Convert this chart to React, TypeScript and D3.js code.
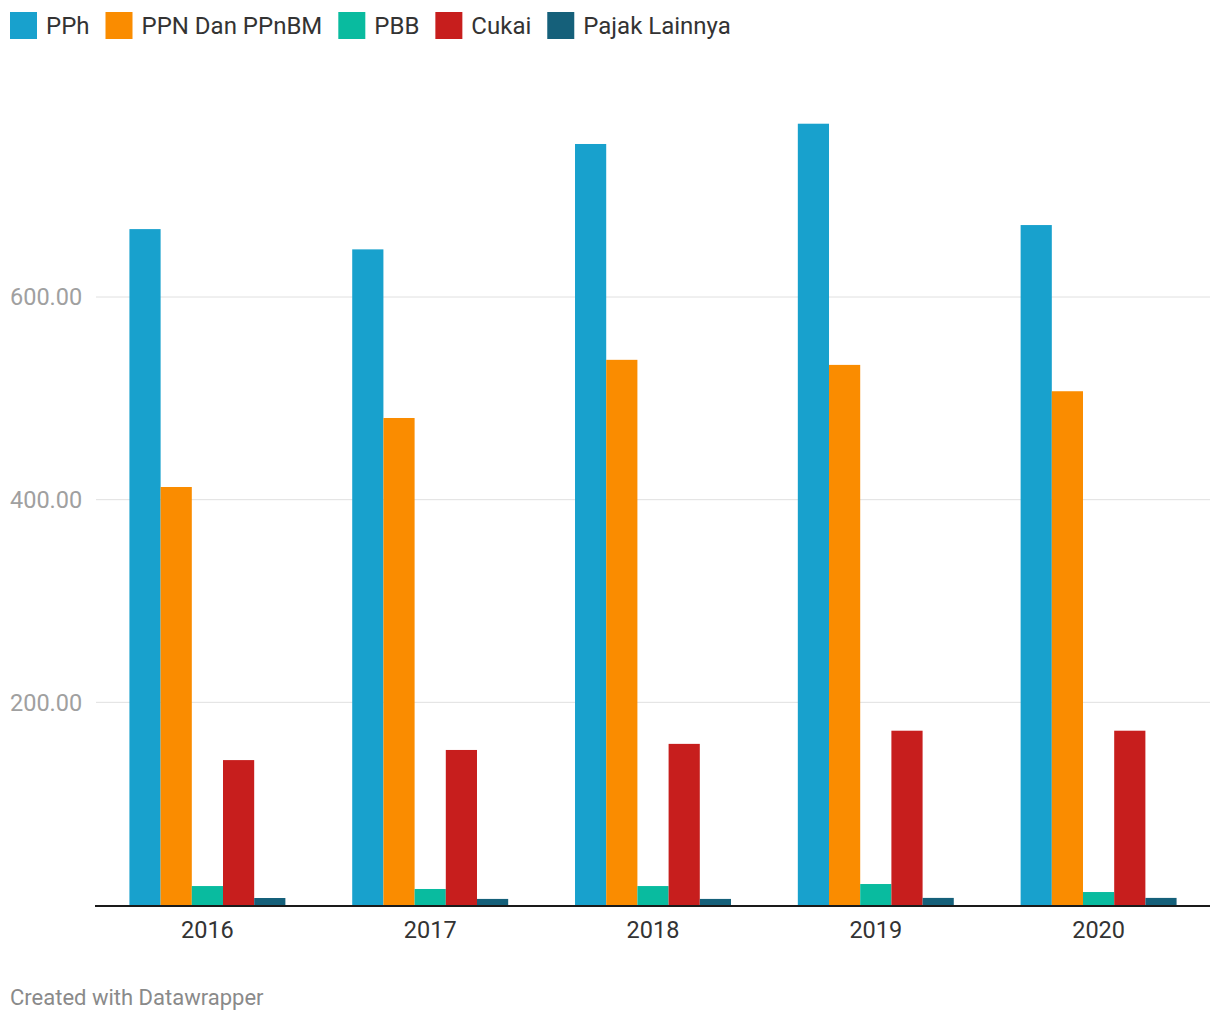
import React, { useEffect, useRef } from 'react'
import * as d3 from 'd3'

const years = ['2016', '2017', '2018', '2019', '2020']
const seriesNames = ['PPh', 'PPN Dan PPnBM', 'PBB', 'Cukai', 'Pajak Lainnya']
const pph = [667, 647, 751, 771, 671]
const ppn = [412.5, 480.6, 538, 533, 507]
const pbb = [18.7, 15.8, 18.7, 20.7, 12.8]
const cukai = [143, 153, 159, 172, 172]
const lainnya = [6.9, 6, 6, 7, 7]
const yTicks = [200, 400, 600]
const colors = ['#18a1cd', '#fa8c00', '#09bb9f', '#c71e1d', '#15607a']

const W = 1220
const H = 1020

export default function App() {
  const svgRef = useRef<SVGSVGElement>(null)

  useEffect(() => {
    if (!svgRef.current) return
    const svg = d3.select(svgRef.current)
    svg.selectAll('*').remove()

    const values = [pph, ppn, pbb, cukai, lainnya]
    const margin = { left: 96, right: 10, bottom: 905 }

    const x0 = d3.scaleBand<string>()
      .domain(years)
      .range([margin.left, W - margin.right])
      .paddingInner(0.3)
      .paddingOuter(0.15)

    const x1 = d3.scaleBand<string>()
      .domain(seriesNames)
      .range([0, x0.bandwidth()])

    const y = d3.scaleLinear()
      .domain([0, 600])
      .range([margin.bottom, 297])

    // grid lines + y labels
    const grid = svg.append('g')
    yTicks.forEach(t => {
      grid.append('line')
        .attr('x1', margin.left)
        .attr('x2', W - margin.right)
        .attr('y1', y(t))
        .attr('y2', y(t))
        .attr('stroke', '#e0e0e0')
        .attr('stroke-width', 1)
      grid.append('text')
        .attr('x', 10)
        .attr('y', y(t))
        .attr('dy', '0.35em')
        .attr('font-size', 23.5)
        .attr('fill', '#a0a0a0')
        .text(d3.format('.2f')(t))
    })

    // bars
    const groups = svg.append('g')
      .selectAll('g')
      .data(years)
      .join('g')
      .attr('transform', d => `translate(${x0(d)},0)`)

    groups.selectAll('rect')
      .data((_, i) => seriesNames.map((s, j) => ({ s, v: values[j][i], c: colors[j] })))
      .join('rect')
      .attr('x', d => x1(d.s)!)
      .attr('width', x1.bandwidth())
      .attr('y', d => y(d.v))
      .attr('height', d => y(0) - y(d.v))
      .attr('fill', d => d.c)

    // x axis
    svg.append('line')
      .attr('x1', 95)
      .attr('x2', W - margin.right)
      .attr('y1', y(0) + 1)
      .attr('y2', y(0) + 1)
      .attr('stroke', '#1a1a1a')
      .attr('stroke-width', 2)

    svg.append('g')
      .selectAll('text')
      .data(years)
      .join('text')
      .attr('x', d => x0(d)! + x0.bandwidth() / 2)
      .attr('y', 930)
      .attr('dy', '0.35em')
      .attr('text-anchor', 'middle')
      .attr('font-size', 23.5)
      .attr('fill', '#333')
      .text(d => d)

    // legend
    const legend = svg.append('g')
    let lx = 10
    seriesNames.forEach((s, i) => {
      legend.append('rect')
        .attr('x', lx)
        .attr('y', 12)
        .attr('width', 27)
        .attr('height', 27)
        .attr('fill', colors[i])
      const t = legend.append('text')
        .attr('x', lx + 36)
        .attr('y', 26)
        .attr('dy', '0.35em')
        .attr('font-size', 24)
        .attr('fill', '#333')
        .text(s)
      const len = (t.node() as SVGTextElement).getComputedTextLength()
      lx = lx + 36 + len + 16
    })

    svg.append('text')
      .attr('x', 10)
      .attr('y', 997)
      .attr('dy', '0.35em')
      .attr('font-size', 22)
      .attr('fill', '#8a8a8a')
      .text('Created with Datawrapper')
  }, [])

  return (
    <div style={{ position: 'absolute', left: 0, top: 0 }}>
      <svg
        ref={svgRef}
        width={W}
        height={H}
        style={{ fontFamily: 'Roboto, sans-serif', display: 'block', background: '#fff' }}
      />
    </div>
  )
}
